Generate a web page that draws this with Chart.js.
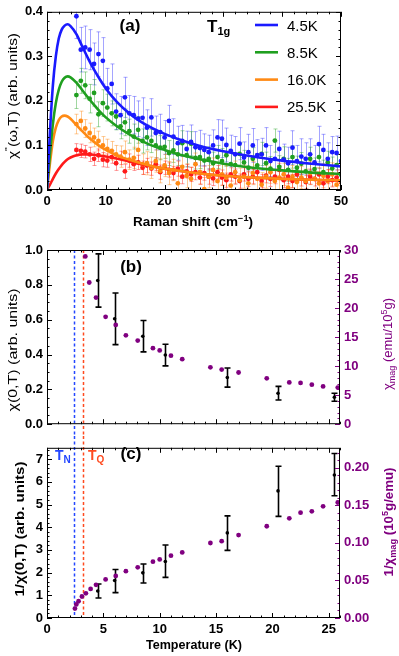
<!DOCTYPE html>
<html>
<head>
<meta charset="utf-8">
<script src="https://cdn.jsdelivr.net/npm/chart.js@4.4.1/dist/chart.umd.min.js"></script>
<style>
  html, body { margin: 0; padding: 0; background: #fff; }
  #wrap { position: relative; width: 399px; height: 656px; overflow: hidden; }
  canvas { position: absolute; left: 0; }
</style>
</head>
<body>
<div id="wrap">
  <canvas id="chartA" width="399" height="230" style="top:0"></canvas>
  <canvas id="chartB" width="399" height="208" style="top:228px"></canvas>
  <canvas id="chartC" width="399" height="220" style="top:436px"></canvas>
</div>
<script>
// ---------- panel (a) data: Raman response, T1g ----------
const ramanShift = [
  5, 5.75, 6.5, 7.25, 8, 8.75, 9.5, 10.25, 11, 11.75,
  12.5, 13.25, 14, 14.75, 15.5, 16.25, 17, 17.75, 18.5, 19.25,
  20, 20.75, 21.5, 22.25, 23, 23.75, 24.5, 25.25, 26, 26.75,
  27.5, 28.25, 29, 29.75, 30.5, 31.25, 32, 32.75, 33.5, 34.25,
  35, 35.75, 36.5, 37.25, 38, 38.75, 39.5, 40.25, 41, 41.75,
  42.5, 43.25, 44, 44.75, 45.5, 46.25, 47, 47.75, 48.5, 49.25,
  50
];
const chi45 = [
  0.39, 0.315, 0.32, 0.315, 0.283, 0.305, 0.29, 0.228, 0.238, 0.176,
  0.168, 0.208, 0.172, 0.168, 0.16, 0.162, 0.14, 0.163, 0.128, 0.13,
  0.118, 0.155, 0.12, 0.105, 0.11, 0.092, 0.108, 0.096, 0.094, 0.09,
  0.085, 0.1, 0.118, 0.115, 0.101, 0.088, 0.08, 0.104, 0.073, 0.085,
  0.1, 0.078, 0.08, 0.1, 0.065, 0.07, 0.092, 0.068, 0.06, 0.095,
  0.065, 0.075, 0.07, 0.08, 0.062, 0.103, 0.09, 0.07, 0.085, 0.083,
  0.065
];
const err45 = [
  0.05, 0.05, 0.048, 0.045, 0.047, 0.05, 0.052, 0.045, 0.045, 0.04,
  0.042, 0.045, 0.04, 0.042, 0.04, 0.045, 0.04, 0.042, 0.038, 0.04,
  0.038, 0.035, 0.04, 0.038, 0.035, 0.04, 0.038, 0.035, 0.04, 0.036,
  0.038, 0.035, 0.04, 0.042, 0.038, 0.035, 0.04, 0.036, 0.035, 0.04,
  0.038, 0.035, 0.036, 0.04, 0.035, 0.038, 0.04, 0.035, 0.036, 0.038,
  0.035, 0.04, 0.036, 0.035, 0.038, 0.04, 0.035, 0.036, 0.035, 0.038,
  0.035
];
const chi85 = [
  0.213, 0.245, 0.235, 0.205, 0.218, 0.17, 0.195, 0.185, 0.172, 0.165,
  0.143, 0.152, 0.132, 0.12, 0.135, 0.11, 0.118, 0.11, 0.1, 0.095,
  0.097, 0.083, 0.089, 0.08, 0.105, 0.078, 0.104, 0.072, 0.074, 0.066,
  0.07, 0.06, 0.074, 0.065, 0.078, 0.058, 0.056, 0.081, 0.062, 0.05,
  0.07, 0.055, 0.081, 0.06, 0.048, 0.111, 0.052, 0.07, 0.045, 0.074,
  0.05, 0.059, 0.042, 0.07, 0.047, 0.074, 0.04, 0.062, 0.048, 0.056,
  0.035
];
const err85 = [
  0.03, 0.028, 0.03, 0.032, 0.03, 0.028, 0.03, 0.03, 0.028, 0.03,
  0.028, 0.03, 0.027, 0.028, 0.03, 0.027, 0.028, 0.026, 0.028, 0.027,
  0.026, 0.028, 0.027, 0.025, 0.028, 0.026, 0.027, 0.025, 0.026, 0.028,
  0.027, 0.025, 0.026, 0.028, 0.025, 0.027, 0.026, 0.025, 0.027, 0.026,
  0.025, 0.027, 0.026, 0.025, 0.027, 0.026, 0.025, 0.027, 0.026, 0.025,
  0.026, 0.025, 0.027, 0.026, 0.025, 0.026, 0.027, 0.025, 0.026, 0.025,
  0.026
];
const chi160 = [
  0.148, 0.155, 0.138, 0.128, 0.118, 0.11, 0.1, 0.092, 0.088, 0.08,
  0.075, 0.085, 0.068, 0.072, 0.09, 0.058, 0.06, 0.05, 0.065, 0.043,
  0.055, 0.038, 0.045, 0.015, 0.052, 0.032, 0.025, 0.058, 0.04, 0.002,
  0.03, 0.045, 0.02, 0.035, 0.028, 0.01, 0.04, 0.022, 0.03, 0.015,
  0.038, 0.025, 0.012, 0.03, 0.04, 0.02, 0.028, 0.035, 0.005, 0.03,
  0.018, 0.028, 0.02, 0.038, 0.025, 0.015, 0.032, 0.02, 0.035, 0.012,
  0.02
];
const err160 = [
  0.022, 0.022, 0.02, 0.022, 0.021, 0.022, 0.02, 0.022, 0.021, 0.02,
  0.024, 0.025, 0.022, 0.024, 0.025, 0.023, 0.026, 0.024, 0.025, 0.027,
  0.025, 0.026, 0.024, 0.028, 0.025, 0.027, 0.026, 0.025, 0.027, 0.026,
  0.025, 0.027, 0.026, 0.025, 0.027, 0.026, 0.025, 0.027, 0.026, 0.025,
  0.026, 0.025, 0.027, 0.026, 0.025, 0.026, 0.027, 0.025, 0.026, 0.025,
  0.026, 0.025, 0.027, 0.026, 0.025, 0.026, 0.027, 0.025, 0.026, 0.025,
  0.026
];
const chi255 = [
  0.09, 0.088, 0.086, 0.08, 0.07, 0.078, 0.068, 0.066, 0.074, 0.06,
  0.072, 0.042, 0.066, 0.058, 0.062, 0.05, 0.055, 0.048, 0.058, 0.04,
  0.05, 0.045, 0.038, 0.048, 0.03, 0.042, 0.035, 0.04, 0.028, 0.038,
  0.03, 0.026, 0.04, 0.028, 0.022, 0.035, 0.03, 0.02, 0.035, 0.025,
  0.03, 0.04, 0.02, 0.032, 0.025, 0.03, 0.045, 0.022, 0.03, 0.02,
  0.035, 0.025, 0.018, 0.03, 0.025, 0.035, 0.015, 0.03, 0.022, 0.028,
  0.018
];
const err255 = [
  0.014, 0.015, 0.014, 0.016, 0.015, 0.014, 0.016, 0.015, 0.014, 0.016,
  0.015, 0.016, 0.015, 0.014, 0.016, 0.015, 0.016, 0.015, 0.014, 0.016,
  0.015, 0.016, 0.015, 0.017, 0.016, 0.015, 0.016, 0.017, 0.015, 0.016,
  0.017, 0.016, 0.015, 0.017, 0.016, 0.015, 0.017, 0.016, 0.015, 0.017,
  0.016, 0.017, 0.015, 0.016, 0.017, 0.016, 0.015, 0.017, 0.016, 0.015,
  0.017, 0.016, 0.015, 0.017, 0.016, 0.015, 0.017, 0.016, 0.015, 0.017,
  0.016
];

// fitted curves
const fitShift = [0, 0.5, 1, 1.5, 2, 2.5, 3, 3.5, 4, 5, 6, 7, 8, 9, 10, 12, 14, 16, 18, 20, 23, 26, 30, 35, 40, 45, 50];
const fit45  = [0, 0.13, 0.235, 0.3, 0.34, 0.36, 0.369, 0.372, 0.368, 0.35, 0.322, 0.295, 0.27, 0.248, 0.228, 0.196, 0.172, 0.153, 0.138, 0.126, 0.111, 0.099, 0.087, 0.075, 0.066, 0.059, 0.053];
const fit85  = [0, 0.08, 0.148, 0.195, 0.225, 0.243, 0.252, 0.255, 0.253, 0.241, 0.224, 0.207, 0.191, 0.176, 0.163, 0.142, 0.125, 0.111, 0.099, 0.09, 0.078, 0.069, 0.059, 0.05, 0.044, 0.039, 0.036];
const fit160 = [0, 0.06, 0.11, 0.14, 0.157, 0.165, 0.167, 0.165, 0.16, 0.146, 0.132, 0.119, 0.108, 0.098, 0.09, 0.077, 0.068, 0.06, 0.053, 0.048, 0.042, 0.037, 0.032, 0.028, 0.025, 0.023, 0.022];
const fit255 = [0, 0.012, 0.025, 0.037, 0.047, 0.056, 0.063, 0.069, 0.073, 0.078, 0.08, 0.08, 0.079, 0.077, 0.075, 0.07, 0.064, 0.058, 0.053, 0.048, 0.042, 0.037, 0.032, 0.028, 0.025, 0.023, 0.021];

const legendLabels = ['4.5K', '8.5K', '16.0K', '25.5K'];
const ramanTicks = [0, 10, 20, 30, 40, 50];
const chiTicks = [0, 0.1, 0.2, 0.3, 0.4];

// ---------- panels (b) and (c): temperature dependence ----------
const tempRaman = [4.5, 6, 8.5, 10.5, 16, 20.5, 25.5];
const chiZero = [0.825, 0.605, 0.505, 0.397, 0.268, 0.178, 0.155];
const chiZeroErr = [0.153, 0.148, 0.09, 0.062, 0.055, 0.039, 0.023];
const invChiZero = [1.19, 1.65, 1.99, 2.49, 3.75, 5.6, 6.3];
const invChiLow = [0.88, 1.12, 1.54, 1.79, 2.98, 4.48, 5.39];
const invChiHigh = [1.5, 2.14, 2.38, 3.22, 4.5, 6.69, 7.25];

const tempMagB = [3.4, 3.75, 4.35, 5.2, 6.1, 7.0, 8.05, 9.4, 10.0, 11.0, 12.0, 14.5, 15.5, 17.0, 19.5, 21.5, 22.5, 23.5, 24.5, 25.8];
const chiMag = [28.9, 24.4, 21.8, 18.5, 17.1, 15.3, 14.4, 13.1, 12.7, 11.8, 11.2, 9.8, 9.4, 8.9, 7.9, 7.2, 7.1, 6.8, 6.5, 6.3];
const tempMagC = [2.48, 2.6, 2.8, 3.1, 3.45, 3.87, 4.35, 5.2, 6.1, 7.0, 8.05, 9.4, 10.0, 11.0, 12.0, 14.5, 15.5, 17.0, 19.5, 21.5, 22.5, 23.5, 24.5, 25.8];
const invChiMag = [0.0126, 0.018, 0.0223, 0.0286, 0.0328, 0.0387, 0.0442, 0.0514, 0.056, 0.0623, 0.0674, 0.075, 0.0779, 0.0829, 0.0872, 0.0998, 0.1023, 0.1103, 0.1221, 0.1326, 0.1402, 0.1419, 0.1486, 0.1537];

const transitionTemps = [2.4, 3.2]; // T_N, T_Q
const tempTicks = [0, 5, 10, 15, 20, 25];
const chiZeroTicks = [0, 0.2, 0.4, 0.6, 0.8, 1.0];
const chiMagTicks = [0, 5, 10, 15, 20, 25, 30];
const invChiTicks = [0, 1, 2, 3, 4, 5, 6, 7];
const invMagTicks = [0, 0.05, 0.1, 0.15, 0.2];

// ---------- styling ----------
const FONT = '"Liberation Sans", Arial, Helvetica, sans-serif';
const PURPLE = '#800080';
const seriesColors = ['#1a1aff', '#1f9f1f', '#ff8a14', '#ff1a1a'];
const errorColors = ['rgba(40,40,255,0.42)', 'rgba(31,159,31,0.42)', 'rgba(255,138,20,0.45)', 'rgba(255,26,26,0.45)'];
const tickFont = { family: FONT, size: 13, weight: 'bold' };

Chart.defaults.font.family = FONT;

// draws text made of several runs (for sub/superscripts), centred at x,y
function rich(ctx, parts, x, y, o = {}) {
  ctx.save();
  ctx.translate(x, y);
  if (o.rot) ctx.rotate(o.rot);
  ctx.textBaseline = 'alphabetic';
  ctx.textAlign = 'left';
  let w = 0;
  parts.forEach(p => { ctx.font = p.f; p.w = ctx.measureText(p.t).width; w += p.w; });
  if (o.len) ctx.scale(o.len / w, 1);
  let cx = o.align === 'left' ? 0 : -w / 2;
  parts.forEach(p => {
    ctx.font = p.f;
    ctx.fillStyle = p.c || o.color || '#000';
    ctx.fillText(p.t, cx, p.dy || 0);
    cx += p.w;
  });
  ctx.restore();
}

const errorBars = {
  id: 'errorBars',
  beforeDatasetsDraw(chart) {
    const { ctx, chartArea: a } = chart;
    ctx.save();
    ctx.beginPath();
    ctx.rect(a.left, a.top, a.width, a.height);
    ctx.clip();
    chart.data.datasets.forEach((ds, di) => {
      if (!ds.lower) return;
      const meta = chart.getDatasetMeta(di);
      const ys = chart.scales[meta.yAxisID];
      const c = ds.capHalf || 2;
      ctx.strokeStyle = ds.errorColor;
      ctx.lineWidth = ds.errorWidth || 1;
      meta.data.forEach((pt, i) => {
        const x = Math.round(pt.x) + 0.5;
        const y1 = ys.getPixelForValue(ds.lower[i]);
        const y2 = ys.getPixelForValue(ds.upper[i]);
        ctx.beginPath();
        ctx.moveTo(x, y1); ctx.lineTo(x, y2);
        ctx.moveTo(x - c, y1); ctx.lineTo(x + c, y1);
        ctx.moveTo(x - c, y2); ctx.lineTo(x + c, y2);
        ctx.stroke();
      });
    });
    ctx.restore();
  }
};

// frame with inward major/minor ticks (Mathematica style)
function makeFrame(axes) {
  return {
    id: 'frameTicks',
    afterDatasetsDraw(chart) {
      const { ctx, chartArea: a } = chart;
      ctx.save();
      ctx.lineWidth = 1;
      axes.forEach(ax => {
        const s = chart.scales[ax.id];
        ctx.strokeStyle = ax.color || '#000';
        const n = Math.floor((s.max - s.min) / ax.minor + 1e-6);
        for (let i = 0; i <= n; i++) {
          const v = s.min + i * ax.minor;
          const r = v / ax.major;
          const major = Math.abs(r - Math.round(r)) < 1e-6;
          const len = major ? 5 : 2.5;
          const p = Math.round(s.getPixelForValue(v)) + 0.5;
          ctx.beginPath();
          ax.sides.forEach(side => {
            if (side === 'bottom') { ctx.moveTo(p, a.bottom); ctx.lineTo(p, a.bottom - len); }
            if (side === 'top') { ctx.moveTo(p, a.top); ctx.lineTo(p, a.top + len); }
            if (side === 'left') { ctx.moveTo(a.left, p); ctx.lineTo(a.left + len, p); }
            if (side === 'right') { ctx.moveTo(a.right, p); ctx.lineTo(a.right - len, p); }
          });
          ctx.stroke();
        }
      });
      ctx.strokeStyle = '#000';
      ctx.strokeRect(a.left + 0.5, a.top + 0.5, a.width - 1, a.height - 1);
      ctx.restore();
    }
  };
}

function fixedTicks(list) {
  return s => { s.ticks = list.map(v => ({ value: v })); };
}

function axisBase(min, max, ticks, fmt, color) {
  return {
    type: 'linear', min, max,
    grid: { display: false, drawTicks: false },
    border: { display: false },
    ticks: {
      font: tickFont, color: color || '#000', padding: 4,
      maxRotation: 0, autoSkip: false, includeBounds: false,
      callback: fmt || (v => String(v))
    },
    afterBuildTicks: fixedTicks(ticks)
  };
}

const baseOptions = {
  responsive: false,
  animation: false,
  events: [],
  plugins: { legend: { display: false }, tooltip: { enabled: false } }
};

// ================= panel (a) =================
const ramanSeries = [chi45, chi85, chi160, chi255];
const ramanErrors = [err45, err85, err160, err255];
const fitSeries = [fit45, fit85, fit160, fit255];

const pointSets = ramanSeries.map((vals, k) => ({
  data: ramanShift.map((x, i) => ({ x, y: vals[i] })),
  lower: vals.map((v, i) => v - ramanErrors[k][i]),
  upper: vals.map((v, i) => v + ramanErrors[k][i]),
  errorColor: errorColors[k],
  capHalf: 2,
  backgroundColor: seriesColors[k],
  borderWidth: 0,
  pointRadius: 2.4,
  order: 2
}));
const fitSets = fitSeries.map((vals, k) => ({
  type: 'line',
  data: fitShift.map((x, i) => ({ x, y: vals[i] })),
  borderColor: seriesColors[k],
  borderWidth: 2.6,
  pointRadius: 0,
  cubicInterpolationMode: 'monotone',
  order: 1
}));

const decorA = {
  id: 'decorA',
  afterDraw(chart) {
    const ctx = chart.ctx;
    // legend
    legendLabels.forEach((lab, i) => {
      const y = 25 + i * 27.3;
      ctx.save();
      ctx.strokeStyle = seriesColors[i];
      ctx.lineWidth = 2.6;
      ctx.beginPath(); ctx.moveTo(255, y); ctx.lineTo(278, y); ctx.stroke();
      ctx.restore();
      rich(ctx, [{ t: lab, f: `15px ${FONT}` }], 287, y + 5.5, { align: 'left' });
    });
    rich(ctx, [{ t: '(a)', f: `bold 17px ${FONT}` }], 130, 31);
    rich(ctx, [{ t: 'T', f: `bold 17px ${FONT}` }, { t: '1g', f: `bold 11px ${FONT}`, dy: 3 }], 207, 32, { align: 'left' });
    rich(ctx, [
      { t: 'χ', f: `13px ${FONT}` },
      { t: '"', f: `9px ${FONT}`, dy: -6 },
      { t: '(ω,T) (arb. units)', f: `13px ${FONT}` }
    ], 17, 96, { rot: -Math.PI / 2, len: 126 });
    rich(ctx, [
      { t: 'Raman shift (cm', f: `bold 12.5px ${FONT}` },
      { t: '−1', f: `bold 8.5px ${FONT}`, dy: -5 },
      { t: ')', f: `bold 12.5px ${FONT}` }
    ], 193, 226, { len: 120 });
  }
};

new Chart(document.getElementById('chartA'), {
  type: 'scatter',
  data: { datasets: [...pointSets, ...fitSets] },
  options: {
    ...baseOptions,
    layout: { padding: { top: 10, right: 58, left: 0, bottom: 0 } },
    scales: {
      x: { ...axisBase(0, 50, ramanTicks), afterFit: s => { s.height = 40; } },
      y: { ...axisBase(0, 0.4, chiTicks, v => v.toFixed(1)), afterFit: s => { s.width = 47; } }
    }
  },
  plugins: [errorBars, makeFrame([
    { id: 'x', major: 10, minor: 2, sides: ['bottom', 'top'] },
    { id: 'y', major: 0.1, minor: 0.02, sides: ['left', 'right'] }
  ]), decorA]
});

// dashed transition lines, shared by (b) and (c)
function drawTransitions(chart, yFrom, yTo) {
  const ctx = chart.ctx;
  const xs = chart.scales.x;
  const cols = ['#2346ff', '#ff4a1f'];
  ctx.save();
  ctx.lineWidth = 1.5;
  ctx.setLineDash([3, 2.5]);
  transitionTemps.forEach((t, i) => {
    const x = Math.round(xs.getPixelForValue(t)) + 0.5;
    ctx.strokeStyle = cols[i];
    ctx.beginPath(); ctx.moveTo(x, yFrom); ctx.lineTo(x, yTo); ctx.stroke();
  });
  ctx.restore();
}

// ================= panel (b) =================
const decorB = {
  id: 'decorB',
  beforeDatasetsDraw(chart) {
    drawTransitions(chart, chart.chartArea.top, chart.height);
  },
  afterDraw(chart) {
    const ctx = chart.ctx;
    rich(ctx, [{ t: '(b)', f: `bold 17px ${FONT}` }], 131, 44);
    rich(ctx, [{ t: 'χ(0,T) (arb. units)', f: `13px ${FONT}` }], 17, 122, { rot: -Math.PI / 2, len: 123 });
    rich(ctx, [
      { t: 'χ', f: `13px ${FONT}` },
      { t: 'mag', f: `9px ${FONT}`, dy: 3 },
      { t: ' (emu/10', f: `13px ${FONT}` },
      { t: '5', f: `9px ${FONT}`, dy: -5 },
      { t: 'g)', f: `13px ${FONT}` }
    ], 392, 116, { rot: -Math.PI / 2, len: 92, color: PURPLE });
  }
};

new Chart(document.getElementById('chartB'), {
  type: 'scatter',
  data: {
    datasets: [
      {
        data: tempMagB.map((x, i) => ({ x, y: chiMag[i] })),
        yAxisID: 'y1', backgroundColor: PURPLE, borderWidth: 0, pointRadius: 2.4
      },
      {
        data: tempRaman.map((x, i) => ({ x, y: chiZero[i] })),
        lower: chiZero.map((v, i) => v - chiZeroErr[i]),
        upper: chiZero.map((v, i) => v + chiZeroErr[i]),
        errorColor: '#000', errorWidth: 1.6, capHalf: 3,
        yAxisID: 'y', backgroundColor: '#000', borderWidth: 0, pointRadius: 1.8
      }
    ]
  },
  options: {
    ...baseOptions,
    layout: { padding: { top: 22, right: 0, left: 0, bottom: 0 } },
    scales: {
      x: {
        ...axisBase(0, 26, tempTicks),
        ticks: { display: false },
        afterFit: s => { s.height = 6; }
      },
      y: { ...axisBase(0, 1, chiZeroTicks, v => v.toFixed(1)), position: 'left', afterFit: s => { s.width = 47; } },
      y1: { ...axisBase(0, 30, chiMagTicks, null, PURPLE), position: 'right', afterFit: s => { s.width = 59; } }
    }
  },
  plugins: [errorBars, makeFrame([
    { id: 'x', major: 5, minor: 1, sides: ['bottom', 'top'] },
    { id: 'y', major: 0.2, minor: 0.05, sides: ['left'] },
    { id: 'y1', major: 5, minor: 1, sides: ['right'], color: PURPLE }
  ]), decorB]
});

// ================= panel (c) =================
const decorC = {
  id: 'decorC',
  beforeDatasetsDraw(chart) {
    drawTransitions(chart, 0, chart.chartArea.bottom);
  },
  afterDraw(chart) {
    const ctx = chart.ctx;
    rich(ctx, [{ t: '(c)', f: `bold 17px ${FONT}` }], 131, 23);
    rich(ctx, [{ t: 'T', f: `bold 14px ${FONT}` }, { t: 'N', f: `bold 10px ${FONT}`, dy: 3 }], 55, 24, { align: 'left', color: '#2346ff' });
    rich(ctx, [{ t: 'T', f: `bold 14px ${FONT}` }, { t: 'Q', f: `bold 10px ${FONT}`, dy: 3 }], 88, 24, { align: 'left', color: '#ff4a1f' });
    rich(ctx, [{ t: '1/χ(0,T) (arb. units)', f: `bold 13px ${FONT}` }], 24, 93, { rot: -Math.PI / 2, len: 135 });
    rich(ctx, [
      { t: '1/χ', f: `bold 13px ${FONT}` },
      { t: 'mag', f: `bold 9px ${FONT}`, dy: 3 },
      { t: ' (10', f: `bold 13px ${FONT}` },
      { t: '5', f: `bold 9px ${FONT}`, dy: -5 },
      { t: 'g/emu)', f: `bold 13px ${FONT}` }
    ], 393, 86, { rot: -Math.PI / 2, len: 109, color: PURPLE });
    rich(ctx, [{ t: 'Temperature (K)', f: `bold 12.5px ${FONT}` }], 194, 213, { len: 96 });
  }
};

new Chart(document.getElementById('chartC'), {
  type: 'scatter',
  data: {
    datasets: [
      {
        data: tempMagC.map((x, i) => ({ x, y: invChiMag[i] })),
        yAxisID: 'y1', backgroundColor: PURPLE, borderWidth: 0, pointRadius: 2.4
      },
      {
        data: tempRaman.map((x, i) => ({ x, y: invChiZero[i] })),
        lower: invChiLow, upper: invChiHigh,
        errorColor: '#000', errorWidth: 1.6, capHalf: 3,
        yAxisID: 'y', backgroundColor: '#000', borderWidth: 0, pointRadius: 1.8
      }
    ]
  },
  options: {
    ...baseOptions,
    layout: { padding: { top: 3, right: 0, left: 0, bottom: 0 } },
    scales: {
      x: { ...axisBase(0, 26, tempTicks), afterFit: s => { s.height = 38; } },
      y: { ...axisBase(0, 7.5, invChiTicks), position: 'left', afterFit: s => { s.width = 47; } },
      y1: { ...axisBase(0, 0.2265, invMagTicks, v => v.toFixed(2), PURPLE), position: 'right', afterFit: s => { s.width = 59; } }
    }
  },
  plugins: [errorBars, makeFrame([
    { id: 'x', major: 5, minor: 1, sides: ['bottom', 'top'] },
    { id: 'y', major: 1, minor: 0.2, sides: ['left'] },
    { id: 'y1', major: 0.05, minor: 0.01, sides: ['right'], color: PURPLE }
  ]), decorC]
});
</script>
</body>
</html>
